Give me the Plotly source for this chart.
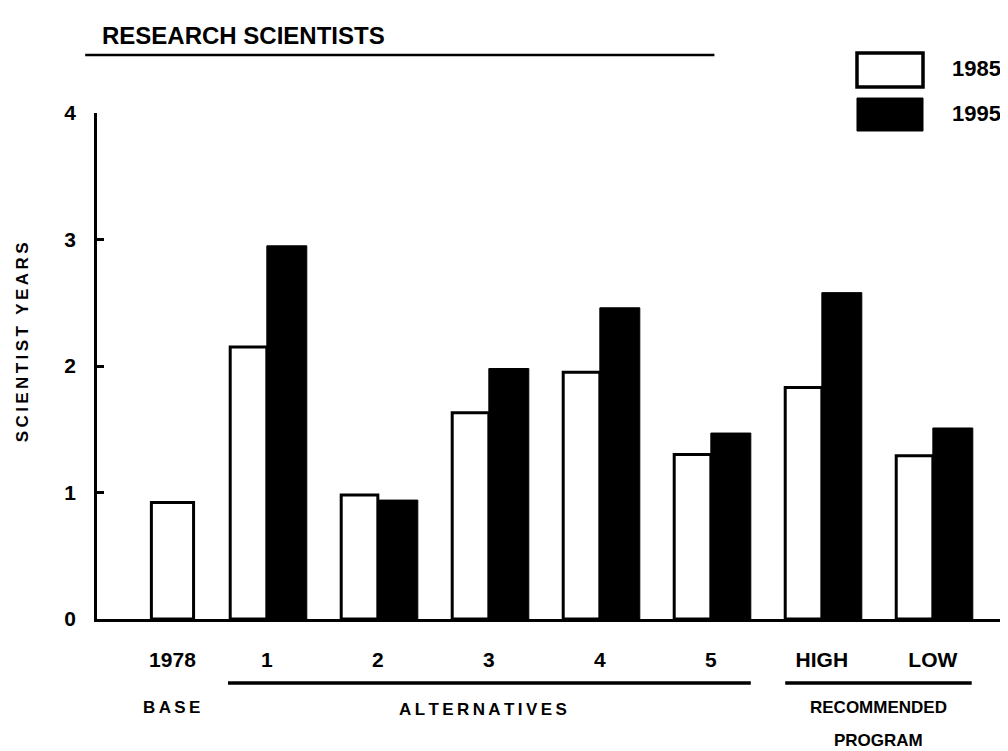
import plotly.graph_objects as go

# ---- data ----
categories = ["1978", "1", "2", "3", "4", "5", "HIGH", "LOW"]
base_1978 = [0.92]
alt_categories = ["1", "2", "3", "4", "5", "HIGH", "LOW"]
values_1985 = [2.15, 0.98, 1.63, 1.95, 1.30, 1.83, 1.29]
values_1995 = [2.95, 0.94, 1.98, 2.46, 1.47, 2.58, 1.51]
y_ticks = [0, 1, 2, 3, 4]

FONT = "Liberation Sans, Arial, sans-serif"
TS = "\u2009"  # thin space for letter spacing

def spaced(s, sep=TS):
    return sep.join(list(s))

idx = {c: i for i, c in enumerate(categories)}
x_base = [idx["1978"]]
x_alt = [idx[c] for c in alt_categories]

fig = go.Figure()

fig.add_trace(go.Bar(
    x=x_base, y=base_1978, name="1978",
    width=0.38, offset=-0.04,
    marker=dict(color="white", line=dict(color="black", width=3)),
    showlegend=False,
))
fig.add_trace(go.Bar(
    x=x_alt, y=values_1985, name="1985",
    width=0.33, offset=-0.33,
    marker=dict(color="white", line=dict(color="black", width=3)),
    showlegend=False,
))
fig.add_trace(go.Bar(
    x=x_alt, y=values_1995, name="1995",
    width=0.36, offset=0.0,
    marker=dict(color="black", line=dict(color="black", width=1)),
    showlegend=False,
))

tickvals = [idx["1978"] + 0.15] + x_alt

fig.update_layout(
    width=1000, height=743,
    paper_bgcolor="white", plot_bgcolor="white",
    margin=dict(l=89, r=3, t=105, b=132),
    barmode="overlay",
    font=dict(family=FONT, color="black", size=15),
    xaxis=dict(
        range=[-0.53, 7.65],
        showgrid=False, zeroline=False,
        showline=True, linecolor="black", linewidth=3,
        tickvals=tickvals, ticktext=categories,
        ticks="", ticklabelstandoff=20,
        tickfont=dict(family=FONT, size=21, weight="bold"),
    ),
    yaxis=dict(
        range=[0, 4.0],
        showgrid=False, zeroline=False,
        showline=True, linecolor="black", linewidth=2.5,
        tickvals=y_ticks, ticks="inside", ticklen=7, tickwidth=2.5, tickcolor="black",
        ticklabelstandoff=14,
        tickfont=dict(family=FONT, size=21, weight="bold"),
    ),
)

# Title and underline
fig.add_annotation(xref="paper", yref="paper", x=0.003, y=1.0, yshift=78,
                   xanchor="left", yanchor="middle", showarrow=False,
                   text="RESEARCH SCIENTISTS",
                   font=dict(family=FONT, size=24, weight="bold"))
fig.add_shape(type="line", xref="paper", yref="paper",
              x0=-0.013, x1=0.68, y0=1.1146, y1=1.1146,
              line=dict(color="black", width=2.5))

# Y axis title
fig.add_annotation(xref="paper", yref="paper", x=0, xshift=-75, y=0.547,
                   xanchor="center", yanchor="middle", showarrow=False,
                   textangle=-90, text=spaced("SCIENTIST YEARS"),
                   font=dict(family=FONT, size=17, weight="bold"))

# Legend (manual)
fig.add_shape(type="rect", xref="paper", yref="paper",
              x0=0.837, x1=0.9097, y0=1.0514, y1=1.1186,
              fillcolor="white", line=dict(color="black", width=3.5))
fig.add_shape(type="rect", xref="paper", yref="paper",
              x0=0.837, x1=0.9097, y0=0.9644, y1=1.0296,
              fillcolor="black", line=dict(color="black", width=1))
fig.add_annotation(xref="paper", yref="paper", x=0.939, y=1.0889,
                   xanchor="left", yanchor="middle", showarrow=False,
                   text="1985", font=dict(family=FONT, size=22, weight="bold"))
fig.add_annotation(xref="paper", yref="paper", x=0.939, y=1.0,
                   xanchor="left", yanchor="middle", showarrow=False,
                   text="1995", font=dict(family=FONT, size=22, weight="bold"))

# Group underlines below axis
fig.add_shape(type="line", xref="x", yref="paper",
              x0=idx["1"] - 0.35, x1=idx["5"] + 0.36, y0=-0.1265, y1=-0.1265,
              line=dict(color="black", width=3.5))
fig.add_shape(type="line", xref="x", yref="paper",
              x0=idx["HIGH"] - 0.33, x1=idx["LOW"] + 0.35, y0=-0.1265, y1=-0.1265,
              line=dict(color="black", width=3.5))

def group_label(xval, text, yshift):
    fig.add_annotation(xref="x", yref="paper", x=xval, y=0, yshift=yshift,
                       xanchor="center", yanchor="middle", showarrow=False,
                       text=text, font=dict(family=FONT, size=17, weight="bold"))

group_label(idx["1978"] + 0.14, spaced("BASE"), -88)
group_label((idx["1"] + idx["5"]) / 2 - 0.05, spaced("ALTERNATIVES"), -90)
group_label((idx["HIGH"] + idx["LOW"]) / 2 + 0.01, "RECOMMENDED", -88)
group_label((idx["HIGH"] + idx["LOW"]) / 2 + 0.01, "PROGRAM", -121)

fig.write_html("out.html")
